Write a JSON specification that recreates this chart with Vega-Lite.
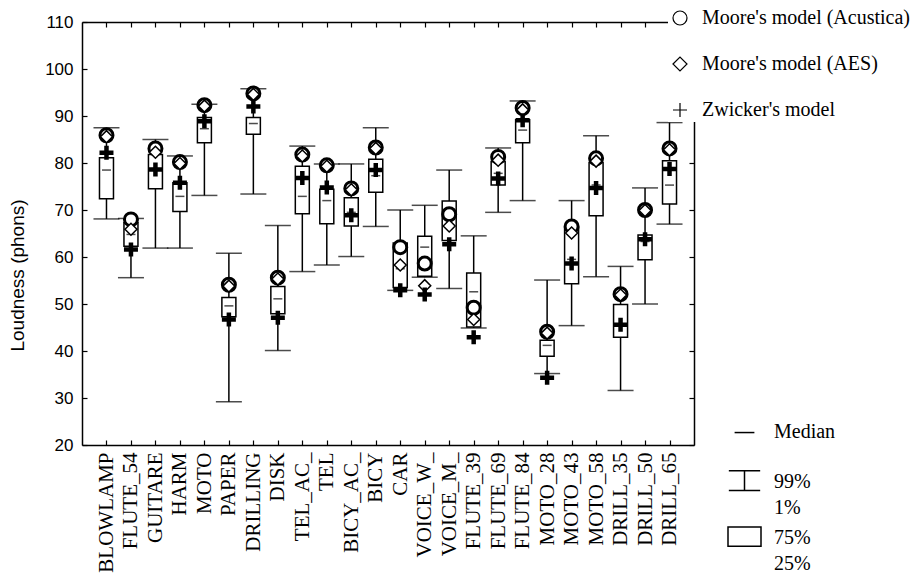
{
  "$schema": "https://vega.github.io/schema/vega-lite/v6.json",
  "width": 612,
  "height": 423,
  "autosize": {"type": "none"},
  "padding": {"left": 82, "top": 22, "right": 222, "bottom": 133},
  "background": "white",
  "config": {
    "view": {"stroke": null},
    "axis": {"domainColor": "black", "domainWidth": 1.5, "tickColor": "black", "tickWidth": 1.2, "tickSize": -5, "grid": false, "labelColor": "black", "titleColor": "black"},
    "style": {"guide-label": {"lineHeight": 26}}
  },
  "datasets": {
    "boxes": [
      {"cat": "BLOWLAMP", "lower": 68.1, "q1": 72.4, "median": 78.5, "q3": 81.1, "upper": 87.5},
      {"cat": "FLUTE_54", "lower": 55.6, "q1": 62.3, "median": 64.8, "q3": 67.3, "upper": 68.2},
      {"cat": "GUITARE", "lower": 61.9, "q1": 74.5, "median": 78.8, "q3": 81.8, "upper": 85.0},
      {"cat": "HARM", "lower": 61.9, "q1": 69.7, "median": 72.9, "q3": 75.8, "upper": 81.5},
      {"cat": "MOTO", "lower": 73.1, "q1": 84.3, "median": 87.3, "q3": 89.7, "upper": 92.5},
      {"cat": "PAPER", "lower": 29.2, "q1": 47.3, "median": 49.6, "q3": 51.4, "upper": 60.8},
      {"cat": "DRILLING", "lower": 73.4, "q1": 86.1, "median": 88.4, "q3": 89.7, "upper": 95.8},
      {"cat": "DISK", "lower": 40.1, "q1": 47.9, "median": 51.1, "q3": 53.7, "upper": 66.7},
      {"cat": "TEL_AC_", "lower": 56.9, "q1": 69.2, "median": 72.9, "q3": 79.3, "upper": 83.6},
      {"cat": "TEL", "lower": 58.3, "q1": 67.1, "median": 72.0, "q3": 74.4, "upper": 79.8},
      {"cat": "BICY_AC_", "lower": 60.1, "q1": 66.6, "median": 69.5, "q3": 72.6, "upper": 79.8},
      {"cat": "BICY", "lower": 66.5, "q1": 73.8, "median": 77.3, "q3": 80.8, "upper": 87.5},
      {"cat": "CAR", "lower": 52.9, "q1": 53.5, "median": 57.5, "q3": 63.0, "upper": 70.0},
      {"cat": "VOICE_W_", "lower": 55.7, "q1": 55.9, "median": 62.1, "q3": 64.4, "upper": 71.0},
      {"cat": "VOICE_M_", "lower": 53.3, "q1": 63.5, "median": 68.0, "q3": 71.9, "upper": 78.5},
      {"cat": "FLUTE_39", "lower": 44.9, "q1": 45.1, "median": 52.6, "q3": 56.6, "upper": 64.5},
      {"cat": "FLUTE_69", "lower": 69.5, "q1": 75.3, "median": 77.8, "q3": 80.3, "upper": 83.2},
      {"cat": "FLUTE_84", "lower": 72.0, "q1": 84.3, "median": 87.0, "q3": 89.2, "upper": 93.2},
      {"cat": "MOTO_28", "lower": 35.2, "q1": 38.9, "median": 41.2, "q3": 42.3, "upper": 55.1},
      {"cat": "MOTO_43", "lower": 45.4, "q1": 54.3, "median": 59.5, "q3": 66.3, "upper": 72.0},
      {"cat": "MOTO_58", "lower": 55.8, "q1": 68.8, "median": 75.3, "q3": 80.1, "upper": 85.8},
      {"cat": "DRILL_35", "lower": 31.6, "q1": 42.9, "median": 45.5, "q3": 49.9, "upper": 58.0},
      {"cat": "DRILL_50", "lower": 50.0, "q1": 59.4, "median": 63.3, "q3": 64.7, "upper": 74.7},
      {"cat": "DRILL_65", "lower": 67.0, "q1": 71.3, "median": 75.3, "q3": 80.5, "upper": 88.6}
    ],
    "models": [
      {"cat": "BLOWLAMP", "model": "Moore's model (Acustica)", "value": 85.9},
      {"cat": "FLUTE_54", "model": "Moore's model (Acustica)", "value": 68.0},
      {"cat": "GUITARE", "model": "Moore's model (Acustica)", "value": 83.1},
      {"cat": "HARM", "model": "Moore's model (Acustica)", "value": 80.2},
      {"cat": "MOTO", "model": "Moore's model (Acustica)", "value": 92.3},
      {"cat": "PAPER", "model": "Moore's model (Acustica)", "value": 54.1},
      {"cat": "DRILLING", "model": "Moore's model (Acustica)", "value": 94.8},
      {"cat": "DISK", "model": "Moore's model (Acustica)", "value": 55.6},
      {"cat": "TEL_AC_", "model": "Moore's model (Acustica)", "value": 81.8},
      {"cat": "TEL", "model": "Moore's model (Acustica)", "value": 79.5},
      {"cat": "BICY_AC_", "model": "Moore's model (Acustica)", "value": 74.6},
      {"cat": "BICY", "model": "Moore's model (Acustica)", "value": 83.3},
      {"cat": "CAR", "model": "Moore's model (Acustica)", "value": 62.1},
      {"cat": "VOICE_W_", "model": "Moore's model (Acustica)", "value": 58.6},
      {"cat": "VOICE_M_", "model": "Moore's model (Acustica)", "value": 69.1},
      {"cat": "FLUTE_39", "model": "Moore's model (Acustica)", "value": 49.2},
      {"cat": "FLUTE_69", "model": "Moore's model (Acustica)", "value": 81.3},
      {"cat": "FLUTE_84", "model": "Moore's model (Acustica)", "value": 91.7},
      {"cat": "MOTO_28", "model": "Moore's model (Acustica)", "value": 44.1},
      {"cat": "MOTO_43", "model": "Moore's model (Acustica)", "value": 66.5},
      {"cat": "MOTO_58", "model": "Moore's model (Acustica)", "value": 81.0},
      {"cat": "DRILL_35", "model": "Moore's model (Acustica)", "value": 52.1},
      {"cat": "DRILL_50", "model": "Moore's model (Acustica)", "value": 70.0},
      {"cat": "DRILL_65", "model": "Moore's model (Acustica)", "value": 83.1},
      {"cat": "BLOWLAMP", "model": "Moore's model (AES)", "value": 85.6},
      {"cat": "FLUTE_54", "model": "Moore's model (AES)", "value": 65.9},
      {"cat": "GUITARE", "model": "Moore's model (AES)", "value": 82.3},
      {"cat": "HARM", "model": "Moore's model (AES)", "value": 79.9},
      {"cat": "MOTO", "model": "Moore's model (AES)", "value": 92.1},
      {"cat": "PAPER", "model": "Moore's model (AES)", "value": 53.8},
      {"cat": "DRILLING", "model": "Moore's model (AES)", "value": 94.6},
      {"cat": "DISK", "model": "Moore's model (AES)", "value": 55.3},
      {"cat": "TEL_AC_", "model": "Moore's model (AES)", "value": 81.5},
      {"cat": "TEL", "model": "Moore's model (AES)", "value": 79.3},
      {"cat": "BICY_AC_", "model": "Moore's model (AES)", "value": 74.3},
      {"cat": "BICY", "model": "Moore's model (AES)", "value": 83.1},
      {"cat": "CAR", "model": "Moore's model (AES)", "value": 58.3},
      {"cat": "VOICE_W_", "model": "Moore's model (AES)", "value": 53.9},
      {"cat": "VOICE_M_", "model": "Moore's model (AES)", "value": 66.6},
      {"cat": "FLUTE_39", "model": "Moore's model (AES)", "value": 46.7},
      {"cat": "FLUTE_69", "model": "Moore's model (AES)", "value": 80.6},
      {"cat": "FLUTE_84", "model": "Moore's model (AES)", "value": 91.3},
      {"cat": "MOTO_28", "model": "Moore's model (AES)", "value": 43.8},
      {"cat": "MOTO_43", "model": "Moore's model (AES)", "value": 65.1},
      {"cat": "MOTO_58", "model": "Moore's model (AES)", "value": 80.4},
      {"cat": "DRILL_35", "model": "Moore's model (AES)", "value": 51.9},
      {"cat": "DRILL_50", "model": "Moore's model (AES)", "value": 69.9},
      {"cat": "DRILL_65", "model": "Moore's model (AES)", "value": 82.8},
      {"cat": "BLOWLAMP", "model": "Zwicker's  model", "value": 82.2},
      {"cat": "FLUTE_54", "model": "Zwicker's  model", "value": 61.6},
      {"cat": "GUITARE", "model": "Zwicker's  model", "value": 78.6},
      {"cat": "HARM", "model": "Zwicker's  model", "value": 75.8},
      {"cat": "MOTO", "model": "Zwicker's  model", "value": 88.9},
      {"cat": "PAPER", "model": "Zwicker's  model", "value": 46.7},
      {"cat": "DRILLING", "model": "Zwicker's  model", "value": 92.0},
      {"cat": "DISK", "model": "Zwicker's  model", "value": 47.1},
      {"cat": "TEL_AC_", "model": "Zwicker's  model", "value": 76.8},
      {"cat": "TEL", "model": "Zwicker's  model", "value": 74.8},
      {"cat": "BICY_AC_", "model": "Zwicker's  model", "value": 68.9},
      {"cat": "BICY", "model": "Zwicker's  model", "value": 78.5},
      {"cat": "CAR", "model": "Zwicker's  model", "value": 52.9},
      {"cat": "VOICE_W_", "model": "Zwicker's  model", "value": 52.0},
      {"cat": "VOICE_M_", "model": "Zwicker's  model", "value": 62.7},
      {"cat": "FLUTE_39", "model": "Zwicker's  model", "value": 42.9},
      {"cat": "FLUTE_69", "model": "Zwicker's  model", "value": 76.7},
      {"cat": "FLUTE_84", "model": "Zwicker's  model", "value": 89.1},
      {"cat": "MOTO_28", "model": "Zwicker's  model", "value": 34.3},
      {"cat": "MOTO_43", "model": "Zwicker's  model", "value": 58.6},
      {"cat": "MOTO_58", "model": "Zwicker's  model", "value": 74.7},
      {"cat": "DRILL_35", "model": "Zwicker's  model", "value": 45.6},
      {"cat": "DRILL_50", "model": "Zwicker's  model", "value": 63.8},
      {"cat": "DRILL_65", "model": "Zwicker's  model", "value": 78.7}
    ]
  },
  "layer": [
    {
      "data": {"name": "boxes"},
      "mark": {"type": "rule", "stroke": "black", "strokeWidth": 1.5},
      "encoding": {
        "x": {"field": "cat", "type": "nominal",
          "scale": {"type": "point", "padding": 1, "domain": ["BLOWLAMP","FLUTE_54","GUITARE","HARM","MOTO","PAPER","DRILLING","DISK","TEL_AC_","TEL","BICY_AC_","BICY","CAR","VOICE_W_","VOICE_M_","FLUTE_39","FLUTE_69","FLUTE_84","MOTO_28","MOTO_43","MOTO_58","DRILL_35","DRILL_50","DRILL_65"]},
          "axis": {"orient": "bottom", "title": null, "labelAngle": 270, "labelFont": "Liberation Serif", "labelFontSize": 21, "labelPadding": 12}},
        "y": {"field": "lower", "type": "quantitative",
          "scale": {"domain": [20, 110], "nice": false, "zero": false},
          "axis": {"orient": "left", "values": [20,30,40,50,60,70,80,90,100,110], "title": "Loudness (phons)", "labelFont": "Liberation Sans", "labelFontSize": 17, "labelPadding": 14, "titleFont": "Liberation Sans", "titleFontSize": 19, "titleFontWeight": "normal", "titleAngle": 270, "titleAlign": "center", "titleBaseline": "bottom", "titleX": -55, "titleY": 253}},
        "y2": {"field": "upper"}
      }
    },
    {
      "data": {"name": "boxes"},
      "mark": {"type": "bar", "size": 14, "fill": "white", "stroke": "black", "strokeWidth": 1.5},
      "encoding": {
        "x": {"field": "cat", "type": "nominal", "axis": null},
        "y": {"field": "q1", "type": "quantitative", "axis": null},
        "y2": {"field": "q3"}
      }
    },
    {
      "data": {"name": "boxes"},
      "mark": {"type": "tick", "size": 9, "thickness": 1.5, "color": "black"},
      "encoding": {
        "x": {"field": "cat", "type": "nominal", "axis": null},
        "y": {"field": "median", "type": "quantitative", "axis": null}
      }
    },
    {
      "data": {"name": "boxes"},
      "mark": {"type": "tick", "size": 26, "thickness": 1.5, "color": "black"},
      "encoding": {
        "x": {"field": "cat", "type": "nominal", "axis": null},
        "y": {"field": "upper", "type": "quantitative", "axis": null}
      }
    },
    {
      "data": {"name": "boxes"},
      "mark": {"type": "tick", "size": 26, "thickness": 1.5, "color": "black"},
      "encoding": {
        "x": {"field": "cat", "type": "nominal", "axis": null},
        "y": {"field": "lower", "type": "quantitative", "axis": null}
      }
    },
    {
      "data": {"name": "boxes"},
      "transform": [{"fold": ["median", "upper", "q3"], "as": ["part", "val"]}],
      "mark": {"type": "point", "opacity": 0},
      "encoding": {
        "x": {"field": "cat", "type": "nominal", "axis": {"orient": "top", "labels": false, "title": null}},
        "y": {"field": "val", "type": "quantitative", "axis": {"orient": "right", "labels": false, "title": null, "values": [20,30,40,50,60,70,80,90,100,110]}},
        "shape": {"field": "part", "type": "nominal",
          "scale": {"domain": ["median", "upper", "q3"], "range": ["M-0.6,-0.3H0.6M0,1.2L0,1.2", "M-0.95,-1.02H0.95M0,-1.02V0.18M-0.95,0.18H0.95", "M-1,-1H1V0.16H-1Z"]},
          "legend": {"orient": "none", "legendX": 645, "legendY": 398, "title": null, "symbolSize": 1089, "symbolStrokeWidth": 1.5, "symbolStrokeColor": "black", "symbolFillColor": "white", "symbolOpacity": 1, "labelFont": "Liberation Serif", "labelFontSize": 20, "labelColor": "black", "labelOffset": 12, "labelBaseline": "alphabetic", "rowPadding": 6, "padding": 0,
            "labelExpr": "datum.value == 'median' ? 'Median' : datum.value == 'upper' ? ['99%', '1%'] : ['75%', '25%']"}}
      }
    },
    {
      "data": {"name": "models"},
      "mark": {"type": "point", "opacity": 0},
      "encoding": {
        "x": {"field": "cat", "type": "nominal", "axis": null},
        "y": {"field": "value", "type": "quantitative", "axis": null},
        "shape": {"field": "model", "type": "nominal",
          "scale": {"domain": ["Moore's model (Acustica)", "Moore's model (AES)", "Zwicker's  model"], "range": ["circle", "diamond", "M-1,0H1M0,-1V1"]},
          "legend": {"orient": "none", "legendX": 586, "legendY": -16, "title": null, "fillColor": "white", "padding": 2, "symbolSize": 196, "symbolStrokeWidth": 1.2, "symbolStrokeColor": "black", "symbolFillColor": "white", "symbolOpacity": 1, "labelFont": "Liberation Serif", "labelFontSize": 20, "labelColor": "black", "labelOffset": 12, "labelLimit": 400, "rowPadding": 26}}
      }
    },
    {
      "data": {"name": "models"},
      "mark": {"type": "point", "fill": "white", "stroke": "black", "filled": true, "opacity": 1},
      "encoding": {
        "x": {"field": "cat", "type": "nominal", "axis": null},
        "y": {"field": "value", "type": "quantitative", "axis": null},
        "shape": {"field": "model", "type": "nominal",
          "scale": {"domain": ["Moore's model (Acustica)", "Moore's model (AES)", "Zwicker's  model"], "range": ["circle", "diamond", "M-1,0H1M0,-1V1"]},
          "legend": null},
        "size": {"field": "model", "type": "nominal", "scale": {"type": "ordinal", "domain": ["Moore's model (Acustica)", "Moore's model (AES)", "Zwicker's  model"], "range": [169, 144, 196]}, "legend": null},
        "strokeWidth": {"field": "model", "type": "nominal", "scale": {"type": "ordinal", "domain": ["Moore's model (Acustica)", "Moore's model (AES)", "Zwicker's  model"], "range": [3, 1.5, 4.5]}, "legend": null}
      }
    }
  ],
  "resolve": {"scale": {"shape": "independent"}, "axis": {"x": "independent", "y": "independent"}}
}
